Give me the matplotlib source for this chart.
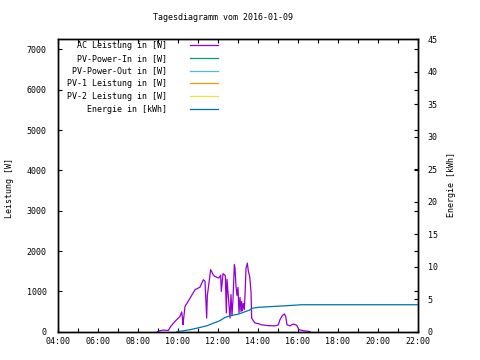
import matplotlib
matplotlib.use("Agg")
import matplotlib.pyplot as plt

# Tagesdiagramm data (times as HH:MM)
ac_times = ["08:58", "09:06", "09:16", "09:31", "09:38", "09:51", "10:06", "10:11",
            "10:14", "10:15", "10:21", "10:36", "10:51", "11:06", "11:16", "11:21",
            "11:26", "11:28", "11:31", "11:38", "11:45", "11:50", "12:02", "12:08",
            "12:10", "12:15", "12:22", "12:25", "12:27", "12:36", "12:39", "12:42",
            "12:45", "12:49", "12:51", "12:54", "12:57", "13:00", "13:03", "13:06",
            "13:09", "13:11", "13:13", "13:16", "13:19", "13:21", "13:24", "13:28",
            "13:31", "13:35", "13:39", "13:41", "13:46", "13:51", "14:01", "14:11",
            "14:31", "14:51", "15:01", "15:06", "15:13", "15:19", "15:23", "15:27",
            "15:36", "15:46", "15:56", "16:03", "16:16", "16:31", "16:36"]
ac_power = [0, 25, 40, 30, 130, 255, 380, 490,
            300, 175, 625, 830, 1040, 1105, 1290, 1250,
            340, 900, 1085, 1540, 1420, 1372, 1330, 1400,
            1000, 1440, 1390, 465, 1300, 340, 920, 400,
            800, 1660, 1570, 1125, 900, 1100, 465, 850,
            500, 750, 520, 700, 550, 890, 1570, 1700,
            1500, 1370, 1000, 340, 270, 215, 200, 170,
            150, 145, 170, 300, 400, 440, 380, 170,
            145, 190, 160, 50, 25, 10, 0]

pv_in = []
pv_out = []
pv1 = []
pv2 = []

energy_times = ["09:56", "10:36", "11:26", "12:06", "12:21", "12:36", "13:01",
                "13:36", "13:41", "14:01", "14:51", "15:26", "16:11", "22:00"]
energy = [0, 0.3, 0.9, 1.7, 2.2, 2.45, 2.7, 3.35, 3.6, 3.75, 3.9, 4.0, 4.15, 4.15]

x_ticks = list(range(4, 23))
x_labels = ["%02d:00" % h if h % 2 == 0 else "" for h in x_ticks]


def to_hours(times):
    return [int(t[:2]) + int(t[3:]) / 60 for t in times]


plt.rcParams['font.family'] = ['DejaVu Sans Mono']
plt.rcParams['font.size'] = 6

fig = plt.figure(figsize=(4.8, 3.6), dpi=100)
ax = fig.add_axes([58 / 480, (360 - 331.7) / 360, 360 / 480, (331.7 - 39.3) / 360])
ax2 = ax.twinx()

l1, = ax.plot(to_hours(ac_times), ac_power, color="#9400D3", lw=0.9)
l2, = ax.plot(pv_in, pv_in, color="#009E73", lw=0.9)
l3, = ax.plot(pv_out, pv_out, color="#56B4E9", lw=0.9)
l4, = ax.plot(pv1, pv1, color="#E69F00", lw=0.9)
l5, = ax.plot(pv2, pv2, color="#F0E442", lw=0.9)
l6, = ax2.plot(to_hours(energy_times), energy, color="#0072B2", lw=0.9)

ax.set_xlim(4, 22)
ax.set_ylim(0, 7250)
ax2.set_ylim(0, 44.8)

ax.set_xticks(x_ticks)
ax.set_xticklabels(x_labels)
ax.set_yticks(range(0, 8000, 1000))
ax2.set_yticks(range(0, 50, 5))

ax.tick_params(axis="both", direction="in", length=3, width=0.8, top=True, right=True,
               labelright=False)
ax.tick_params(axis="x", pad=4)
ax.tick_params(axis="y", pad=8)
ax2.tick_params(axis="y", direction="in", length=3, width=0.8, pad=7)

for a in (ax, ax2):
    for s in a.spines.values():
        s.set_linewidth(1.0)

fig.text(223 / 480, 1 - 18 / 360, "Tagesdiagramm vom 2016-01-09", ha="center", va="center")
fig.text(10 / 480, 1 - 188 / 360, "Leistung [W]", rotation=90, ha="center", va="center")
fig.text(452 / 480, 1 - 185 / 360, "Energie [kWh]", rotation=90, ha="center", va="center")

labels = ["AC Leistung in [W]", "PV-Power-In in [W]", "PV-Power-Out in [W]",
          "PV-1 Leistung in [W]", "PV-2 Leistung in [W]", "Energie in [kWh]"]
ax.legend([l1, l2, l3, l4, l5, l6], labels, loc="upper right",
          bbox_to_anchor=(218 / 480, 1 - 41 / 360), bbox_transform=fig.transFigure,
          frameon=False, markerfirst=False, borderpad=0, borderaxespad=0,
          handlelength=3.4, handletextpad=2.7, labelspacing=0.45)

fig.savefig("out.png", dpi=100)
